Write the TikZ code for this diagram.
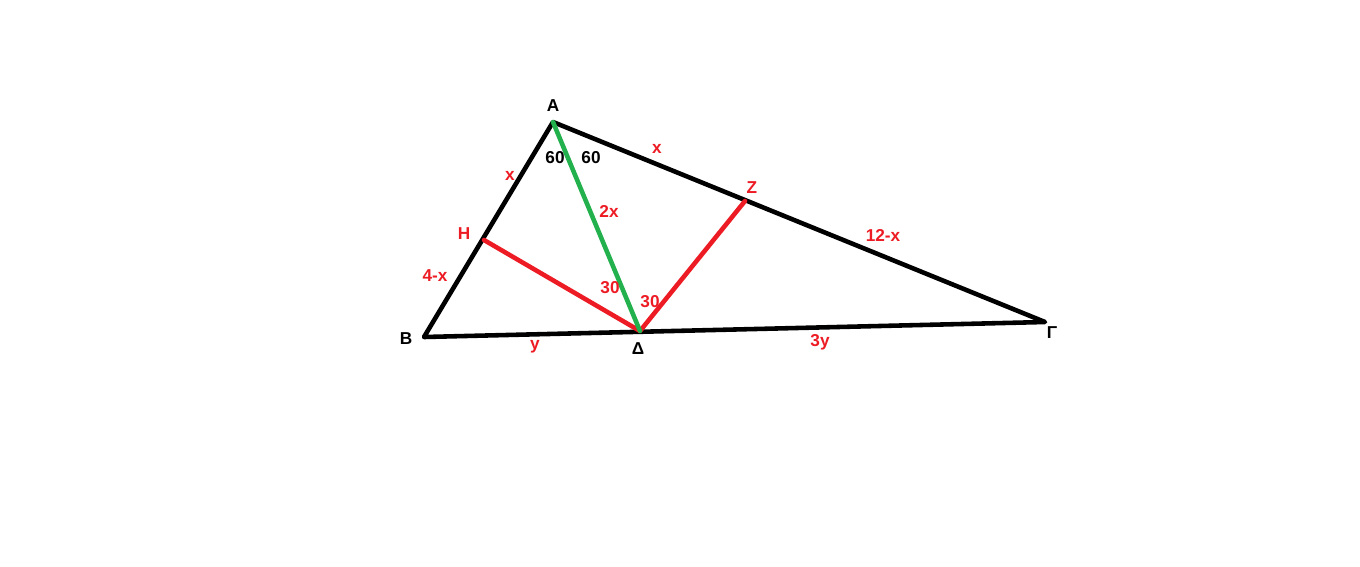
\documentclass[tikz,border=0pt]{standalone}
\usepackage{fontspec}
\setmainfont{Liberation Sans}
\definecolor{paintred}{RGB}{237,28,36}
\definecolor{paintgreen}{RGB}{34,177,76}
\begin{document}
\begin{tikzpicture}[x=0.02cm,y=-0.02cm,
    lab/.style={font=\fontsize{9.8}{11}\selectfont\bfseries,inner sep=0pt},
    redlab/.style={lab,text=paintred},
    side/.style={line width=2.6pt,line join=round,line cap=round}]
  \useasboundingbox (0,0) rectangle (1360,566);
  % vertices and feet
  \coordinate (A) at (553,122);
  \coordinate (B) at (424,337);
  \coordinate (D) at (640,331);
  \coordinate (G) at (1045,322);
  \coordinate (H) at (484,240);
  \coordinate (Z) at (745,201);
  % triangle and segments
  \draw[side] (A) -- (B) -- (G) -- cycle;
  \draw[side,paintred] (H) -- (D) -- (Z);
  \draw[side,paintgreen] (A) -- (D);
  % point labels
  \node[lab] (lA) at (553,106) {Α};
  \node[lab] (lB) at (406,339) {Β};
  \node[lab] (lD) at (638,349) {Δ};
  \node[lab] (lG) at (1052,333) {Γ};
  \node[redlab] (lH) at (464,234) {Η};
  \node[redlab] (lZ) at (752,188) {Ζ};
  % lengths and angles
  \node[redlab] (xAB) at (510,176) {x};
  \node[redlab] (xAG) at (657,149) {x};
  \node[lab] (angL) at (555,158) {60};
  \node[lab] (angR) at (591,158) {60};
  \node[redlab] (AD) at (609,211) {2x};
  \node[redlab] (HB) at (435,276) {4-x};
  \node[redlab] (angHD) at (610,288) {30};
  \node[redlab] (angZD) at (650,302) {30};
  \node[redlab] (ZG) at (883,235) {12-x};
  \node[redlab] (BD) at (535,347) {y};
  \node[redlab] (DG) at (820,342) {3y};
\end{tikzpicture}
\end{document}
